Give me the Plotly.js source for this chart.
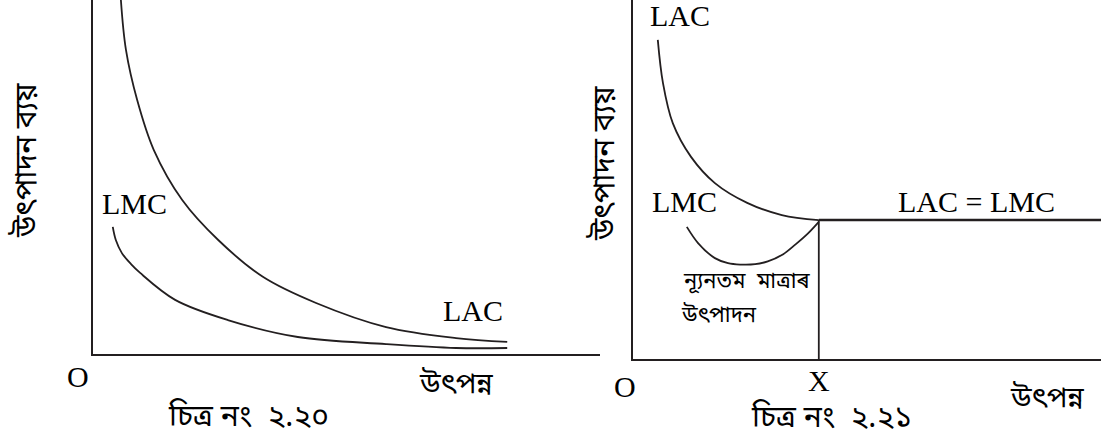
<!DOCTYPE html>
<html>
<head>
<meta charset="utf-8">
<script src="https://cdn.plot.ly/plotly-3.0.1.min.js"></script>
<style>
html,body{margin:0;padding:0;background:#fff;}
#chart{width:1101px;height:448px;}
</style>
</head>
<body>
<div id="chart"></div>
<script>
// Figure 2.20 (left): decreasing long-run costs
const leftLacX = [0.55, 0.65, 0.87, 1.20, 1.76, 2.47, 3.35, 4.40, 5.78, 7.16, 8.17];
const leftLacY = [10.0, 8.59, 7.18, 5.76, 4.35, 3.22, 2.18, 1.44, 0.76, 0.45, 0.34];
const leftLmcX = [0.39, 0.45, 0.57, 0.75, 0.93, 1.62, 2.66, 4.04, 5.78, 7.16, 8.17];
const leftLmcY = [3.59, 3.22, 2.85, 2.54, 2.29, 1.53, 0.96, 0.48, 0.28, 0.17, 0.17];

// Figure 2.21 (right): minimum efficient scale X, then constant costs
const rightLacX = [0.53, 0.64, 0.85, 1.24, 1.75, 2.44, 3.18, 3.97];
const rightLacY = [8.89, 7.69, 6.57, 5.63, 4.90, 4.35, 4.01, 3.87];
const flatX = [3.97, 10];
const flatY = [3.87, 3.87];
const rightLmcX = [1.15, 1.39, 1.75, 2.03, 2.29, 2.61, 2.88, 3.21, 3.48, 3.74, 3.97];
const rightLmcY = [3.68, 3.23, 2.81, 2.67, 2.63, 2.64, 2.72, 2.92, 3.20, 3.50, 3.82];
const xMark = [3.97, 3.97];
const xMarkY = [0, 3.87];

// Text
const yTitle = "উৎপাদন ব্যয়";
const xTitle = "উৎপন্ন";
const caption1 = "চিত্ৰ নং  ২.২০";
const caption2 = "চিত্ৰ নং  ২.২১";
const minScale1 = "ন্যূনতম  মাত্ৰাৰ";
const minScale2 = "উৎপাদন";

const ink = "#231f20";
const serif = "Liberation Serif, Times New Roman, serif";
const beng = "Noto Sans Bengali, Noto Serif Bengali, Lohit Bengali, Noto Sans, sans-serif";
const W = 1101, H = 448;
const px = x => x / W;
const py = y => 1 - y / H;

const lineStyle = {color: ink, width: 1.8, shape: 'spline', smoothing: 1.0};
const traces = [
  {x: leftLacX, y: leftLacY, mode: 'lines', line: lineStyle, xaxis: 'x', yaxis: 'y', hoverinfo: 'skip'},
  {x: leftLmcX, y: leftLmcY, mode: 'lines', line: lineStyle, xaxis: 'x', yaxis: 'y', hoverinfo: 'skip'},
  {x: rightLacX, y: rightLacY, mode: 'lines', line: lineStyle, xaxis: 'x2', yaxis: 'y2', hoverinfo: 'skip'},
  {x: flatX, y: flatY, mode: 'lines', line: {color: ink, width: 2.4}, xaxis: 'x2', yaxis: 'y2', hoverinfo: 'skip'},
  {x: rightLmcX, y: rightLmcY, mode: 'lines', line: lineStyle, xaxis: 'x2', yaxis: 'y2', hoverinfo: 'skip'},
  {x: xMark, y: xMarkY, mode: 'lines', line: {color: ink, width: 1.8}, xaxis: 'x2', yaxis: 'y2', hoverinfo: 'skip'}
];

const axBase = {showgrid: false, zeroline: false, showticklabels: false, ticks: '',
  showline: true, linecolor: ink, linewidth: 2.2, fixedrange: true};

function ann(text, x, y, size, family, extra) {
  return Object.assign({text: text, x: px(x), y: py(y), xref: 'paper', yref: 'paper',
    showarrow: false, xanchor: 'center', yanchor: 'middle',
    font: {size: size, family: family, color: '#000'}}, extra || {});
}

const layout = {
  width: W, height: H,
  margin: {l: 0, r: 0, t: 0, b: 0},
  paper_bgcolor: '#fff', plot_bgcolor: '#fff',
  showlegend: false,
  xaxis: Object.assign({}, axBase, {domain: [93 / W, 600 / W], range: [0, 10], anchor: 'y'}),
  yaxis: Object.assign({}, axBase, {domain: [1 - 354 / H, 1], range: [0, 10], anchor: 'x'}),
  xaxis2: Object.assign({}, axBase, {domain: [633 / W, 1], range: [0, 10], anchor: 'y2'}),
  yaxis2: Object.assign({}, axBase, {domain: [1 - 359 / H, 1], range: [0, 10], anchor: 'x2'}),
  annotations: [
    ann("LMC", 134, 204, 30, serif),
    ann("LAC", 473, 310, 30, serif),
    ann("O", 78, 376, 30, serif),
    ann(xTitle, 456, 385, 29, beng),
    ann(caption1, 248, 418, 30, beng),
    ann(yTitle, 28, 160, 30, beng, {textangle: -90}),
    ann("LAC", 680, 16, 30, serif),
    ann("LMC", 684, 201, 30, serif),
    ann("LAC = LMC", 976, 201, 30, serif),
    ann(minScale1, 747, 282, 22, beng),
    ann(minScale2, 719, 316, 22, beng),
    ann("O", 625, 386, 30, serif),
    ann("X", 819, 380, 30, serif),
    ann(xTitle, 1047, 399, 29, beng),
    ann(caption2, 831, 419, 30, beng),
    ann(yTitle, 606, 163, 30, beng, {textangle: -90})
  ]
};

Plotly.newPlot('chart', traces, layout, {staticPlot: true, displayModeBar: false});
</script>
</body>
</html>
